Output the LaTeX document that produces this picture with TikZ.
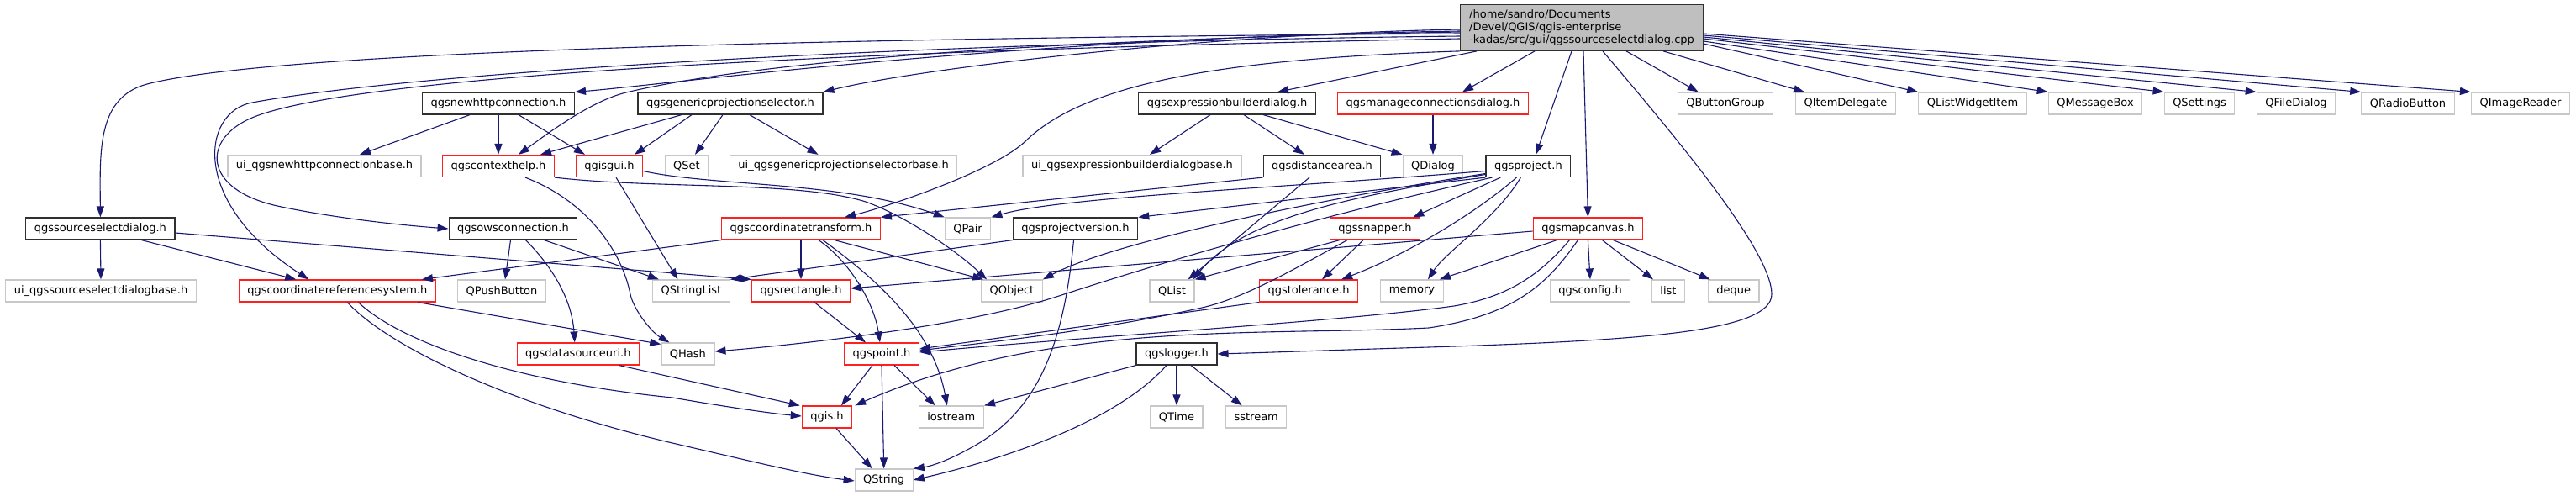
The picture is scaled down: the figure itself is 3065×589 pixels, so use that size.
\documentclass[tikz,border=0pt]{standalone}
\usepackage{fontspec}
\setmainfont{DejaVu Sans}
\usepackage{tikz}
\usetikzlibrary{arrows.meta}
\definecolor{edgeblue}{HTML}{191970}
\definecolor{boxgray}{HTML}{BFBFBF}
\definecolor{boxlight}{HTML}{C8C8C8}
\definecolor{boxred}{HTML}{FF2020}
\definecolor{boxdark}{HTML}{303030}

\begin{document}
\begin{tikzpicture}[x=1pt, y=-1pt, font=\fontsize{13}{15}\selectfont,
  hdr/.style={draw=boxdark, line width=1.2pt, inner xsep=10pt, inner ysep=3pt, minimum height=26pt},
  part/.style={hdr, draw=boxred},
  sys/.style={hdr, draw=boxlight},
  dep/.style={-{Triangle[length=13pt,width=9pt]}, color=edgeblue, line width=1.1pt}]
  \useasboundingbox (0,0) rectangle (3065,589);
  % source file
  \node[hdr, fill=boxgray, align=left, inner xsep=10.5pt, inner ysep=6pt] (cpp) at (1882,33)
    {/home/sandro/Documents\\/Devel/QGIS/qgis-enterprise\\-kadas/src/gui/qgssourceselectdialog.cpp};
  % rank 1
  \node[hdr] (nhc) at (593,123) {qgsnewhttpconnection.h};
  \node[hdr] (gps) at (869,123) {qgsgenericprojectionselector.h};
  \node[hdr] (ebd) at (1460,123) {qgsexpressionbuilderdialog.h};
  \node[part] (mcd) at (1705,123) {qgsmanageconnectionsdialog.h};
  \node[sys] (btngrp) at (2053,123) {QButtonGroup};
  \node[sys] (itemdel) at (2196,123) {QItemDelegate};
  \node[sys] (lwitem) at (2347,123) {QListWidgetItem};
  \node[sys] (msgbox) at (2493,123) {QMessageBox};
  \node[sys] (settings) at (2617,123) {QSettings};
  \node[sys] (filedlg) at (2732,123) {QFileDialog};
  \node[sys] (radio) at (2865,123) {QRadioButton};
  \node[sys] (imgreader) at (2999,123) {QImageReader};
  % rank 2
  \node[sys] (uinhc) at (386,197.5) {ui\_qgsnewhttpconnectionbase.h};
  \node[part] (ctxhelp) at (593,197.5) {qgscontexthelp.h};
  \node[part] (gisgui) at (725,197.5) {qgisgui.h};
  \node[sys] (qset) at (817,197.5) {QSet};
  \node[sys] (uigps) at (1003.6,197.5) {ui\_qgsgenericprojectionselectorbase.h};
  \node[sys] (uiebd) at (1347,197.5) {ui\_qgsexpressionbuilderdialogbase.h};
  \node[hdr] (distarea) at (1573,197.5) {qgsdistancearea.h};
  \node[sys] (qdialog) at (1705,197.5) {QDialog};
  \node[hdr] (project) at (1818.4,197.5) {qgsproject.h};
  % rank 3
  \node[hdr] (ssd) at (119.4,272) {qgssourceselectdialog.h};
  \node[hdr] (ows) at (610.5,272) {qgsowsconnection.h};
  \node[part] (ctrans) at (953,272) {qgscoordinatetransform.h};
  \node[sys] (qpair) at (1151.6,272) {QPair};
  \node[hdr] (projver) at (1279.5,272) {qgsprojectversion.h};
  \node[part] (snapper) at (1636,272) {qgssnapper.h};
  \node[part] (mapcanvas) at (1889.4,272) {qgsmapcanvas.h};
  % rank 4
  \node[sys] (uissd) at (120,346) {ui\_qgssourceselectdialogbase.h};
  \node[part] (crs) at (401.3,346) {qgscoordinatereferencesystem.h};
  \node[sys] (pushbtn) at (597,346) {QPushButton};
  \node[sys] (strlist) at (822.4,346) {QStringList};
  \node[part] (rect) at (953,346) {qgsrectangle.h};
  \node[sys] (qobject) at (1204,346) {QObject};
  \node[sys] (qlist) at (1394.5,346) {QList};
  \node[part] (tolerance) at (1557,346) {qgstolerance.h};
  \node[sys] (memory) at (1680,346) {memory};
  \node[sys] (config) at (1892,346) {qgsconfig.h};
  \node[sys] (stdlist) at (1985,346) {list};
  \node[sys] (deque) at (2062.7,346) {deque};
  % rank 5
  \node[part] (dsuri) at (687.8,421) {qgsdatasourceuri.h};
  \node[sys] (qhash) at (818.4,421) {QHash};
  \node[part] (point) at (1049,421) {qgspoint.h};
  \node[hdr] (logger) at (1400,421) {qgslogger.h};
  % rank 6
  \node[part] (qgis) at (984,496) {qgis.h};
  \node[sys] (iostream) at (1131.8,496) {iostream};
  \node[sys] (qtime) at (1400,496) {QTime};
  \node[sys] (sstream) at (1494.7,496) {sstream};
  % rank 7
  \node[sys] (qstring) at (1051.7,571) {QString};

  % includes of the source file
  \draw[dep] ([yshift=-7pt]cpp.west) .. controls (1000,45) and (330,60) .. (175,100)
    .. controls (115,116) and (119,180) .. (ssd.north);
  \draw[dep] ([yshift=-10pt]cpp.west) .. controls (1100,50) and (500,85) .. (300,122)
    .. controls (240,133) and (225,240) .. ([xshift=-34pt]crs.north);
  \draw[dep] ([yshift=-13pt]cpp.west) .. controls (1000,60) and (420,90) .. (300,140)
    .. controls (240,165) and (240,225) .. (330,245) .. controls (400,260) and (480,268) .. (ows.west);
  \draw[dep] ([yshift=-4pt]cpp.west) .. controls (1200,45) and (800,100) .. (nhc.north east);
  \draw[dep] ([yshift=-5pt]cpp.west) .. controls (1100,50) and (850,85) .. (745,110)
    .. controls (703,120) and (650,160) .. ([xshift=24pt]ctxhelp.north);
  \draw[dep] ([yshift=-2pt]cpp.west) .. controls (1450,40) and (1100,80) .. (gps.north east);
  \draw[dep] (cpp.south west) .. controls (1450,70) and (1290,100) .. (1220,168)
    .. controls (1185,202) and (1060,245) .. ([xshift=52pt]ctrans.north);
  \draw[dep] ([xshift=20pt]cpp.south west) -- ([xshift=60pt]ebd.north);
  \draw[dep] ([xshift=-56pt]cpp.south) -- ([xshift=35pt]mcd.north);
  \draw[dep] ([xshift=-12pt]cpp.south) -- ([xshift=9pt]project.north);
  \draw[dep] ([xshift=2pt]cpp.south) -- (mapcanvas.north);
  \draw[dep] ([xshift=25pt]cpp.south) .. controls (2000,170) and (2108,300) .. (2108,350)
    .. controls (2108,395) and (1950,405) .. (1700,413) .. controls (1600,416) and (1520,419) .. (logger.east);
  \draw[dep] ([xshift=53pt]cpp.south) -- ([xshift=25pt]btngrp.north west);
  \draw[dep] ([xshift=97pt]cpp.south) -- ([xshift=11pt]itemdel.north west);
  \draw[dep] ([yshift=-19pt]cpp.east) -- (lwitem.north west);
  \draw[dep] ([yshift=-16pt]cpp.east) -- (msgbox.north west);
  \draw[dep] ([yshift=-13pt]cpp.east) -- (settings.north west);
  \draw[dep] ([yshift=-11pt]cpp.east) -- (filedlg.north west);
  \draw[dep] ([yshift=-9pt]cpp.east) -- (radio.north west);
  \draw[dep] ([yshift=-7pt]cpp.east) -- (imgreader.north west);

  % headers
  \draw[dep] (ssd.south) -- (uissd.north);
  \draw[dep] ([xshift=49pt]ssd.south) -- ([xshift=-49pt]crs.north);
  \draw[dep] ([yshift=-5pt]ssd.east) -- (rect.north west);
  \draw[dep] ([xshift=-34pt]nhc.south) -- ([xshift=42pt]uinhc.north);
  \draw[dep] (nhc.south) -- (ctxhelp.north);
  \draw[dep] ([xshift=24pt]nhc.south) -- ([xshift=-29pt]gisgui.north);
  \draw[dep] ([xshift=-58pt]gps.south) -- ([xshift=50pt]ctxhelp.north);
  \draw[dep] ([xshift=-46pt]gps.south) -- ([xshift=30pt]gisgui.north);
  \draw[dep] ([xshift=-9pt]gps.south) -- ([xshift=10pt]qset.north);
  \draw[dep] ([xshift=23pt]gps.south) -- ([xshift=-30pt]uigps.north);
  \draw[dep] ([xshift=-20pt]ebd.south) -- ([xshift=21pt]uiebd.north);
  \draw[dep] ([xshift=20pt]ebd.south) -- ([xshift=-21pt]distarea.north);
  \draw[dep] ([xshift=43pt]ebd.south) -- (qdialog.north west);
  \draw[dep] (mcd.south) -- (qdialog.north);
  \draw[dep] ([xshift=32pt]ctxhelp.south) .. controls (700,240) and (740,300) .. (750,350)
    .. controls (753.6,368) and (775,395) .. ([xshift=-22pt]qhash.north);
  \draw[dep] (ctxhelp.south east) .. controls (780,225) and (950,215) .. (1030,240)
    .. controls (1080,258) and (1140,300) .. ([xshift=-30pt]qobject.north);
  \draw[dep] ([xshift=8pt]gisgui.south) -- ([xshift=-16pt]strlist.north);
  \draw[dep] ([yshift=-6pt]gisgui.east) .. controls (850,222) and (1000,215) .. (qpair.north west);
  \draw[dep] ([xshift=-3pt]ows.south) -- ([xshift=4pt]pushbtn.north);
  \draw[dep] ([xshift=15pt]ows.south) .. controls (650,310) and (680,350) .. ([xshift=-4pt]dsuri.north);
  \draw[dep] ([xshift=37pt]ows.south) -- ([xshift=8pt]strlist.north west);
  \draw[dep] (ctrans.south west) -- ([xshift=-17pt]crs.north east);
  \draw[dep] (ctrans.south) -- (rect.north);
  \draw[dep] ([xshift=21pt]ctrans.south) .. controls (1010,310) and (1040,360) .. ([xshift=-2pt]point.north);
  \draw[dep] ([xshift=26pt]ctrans.south) .. controls (1040,330) and (1110,390) .. ([xshift=-5pt]iostream.north);
  \draw[dep] ([xshift=40pt]ctrans.south) -- ([xshift=3pt]qobject.north west);
  \draw[dep] (distarea.south west) -- (ctrans.north east);
  \draw[dep] ([xshift=-15pt]distarea.south) -- ([xshift=-8pt]qlist.north east);
  \draw[dep] (project.south west) -- (projver.north east);
  \draw[dep] ([yshift=-6pt]project.west) .. controls (1500,225) and (1260,235) .. (qpair.north east);
  \draw[dep] ([yshift=-9pt]project.west) .. controls (1550,240) and (1320,290) .. (qobject.north east);
  \draw[dep] ([xshift=8pt]project.south west) .. controls (1600,250) and (1420,300) .. (1260,352)
    .. controls (1150,388) and (950,410) .. ([yshift=3pt]qhash.east);
  \draw[dep] ([yshift=-10pt]project.west) .. controls (1600,235) and (1480,260) .. ([xshift=-2pt]qlist.north east);
  \draw[dep] ([xshift=-33pt]project.south) -- ([xshift=-9pt]snapper.north east);
  \draw[dep] ([xshift=-14pt]project.south) .. controls (1760,250) and (1680,300) .. ([xshift=-20pt]tolerance.north east);
  \draw[dep] ([xshift=-9pt]project.south) .. controls (1780,260) and (1720,300) .. ([xshift=19pt]memory.north);
  \draw[dep] ([xshift=-14pt]snapper.south) -- ([xshift=16pt]tolerance.north);
  \draw[dep] ([xshift=-42pt]snapper.south) -- (qlist.north east);
  \draw[dep] ([xshift=-33pt]snapper.south) .. controls (1540,320) and (1480,355) .. (1430,366)
    .. controls (1300,395) and (1150,410) .. ([yshift=4pt]point.east);
  \draw[dep] ([yshift=-3pt]mapcanvas.west) -- ([yshift=3pt]rect.east);
  \draw[dep] ([xshift=-37pt]mapcanvas.south) -- ([xshift=-5pt]memory.north east);
  \draw[dep] ([xshift=-22pt]mapcanvas.south) .. controls (1830,330) and (1790,354) .. (1730,364)
    .. controls (1600,382) and (1300,400) .. ([yshift=2pt]point.east);
  \draw[dep] ([xshift=-12pt]mapcanvas.south) .. controls (1840,340) and (1800,375) .. (1700,390)
    .. controls (1500,400) and (1250,380) .. ([xshift=3pt]qgis.north east);
  \draw[dep] (mapcanvas.south) -- (config.north);
  \draw[dep] ([xshift=17pt]mapcanvas.south) -- ([xshift=-18pt]stdlist.north);
  \draw[dep] ([xshift=30pt]mapcanvas.south) -- ([xshift=3pt]deque.north west);
  \draw[dep] (projver.south west) -- (strlist.north east);
  \draw[dep] ([xshift=-2pt]projver.south) .. controls (1265,420) and (1230,490) .. (1160,530)
    .. controls (1125,550) and (1105,555) .. (qstring.north east);
  \draw[dep] ([xshift=12pt]crs.south) .. controls (460,410) and (600,480) .. (800,527)
    .. controls (900,550) and (960,565) .. ([yshift=-1pt]qstring.west);
  \draw[dep] ([xshift=25pt]crs.south) .. controls (480,410) and (620,455) .. (800,473)
    .. controls (870,485) and (920,492) .. ([yshift=1pt]qgis.west);
  \draw[dep] ([xshift=96pt]crs.south) -- ([yshift=-2pt]qhash.north west);
  \draw[dep] ([xshift=49pt]dsuri.south) -- ([xshift=-2pt]qgis.north west);
  \draw[dep] ([xshift=16pt]rect.south) -- ([xshift=-19pt]point.north);
  \draw[dep] (tolerance.south west) -- ([yshift=6pt]point.east);
  \draw[dep] ([xshift=-11pt]point.south) -- ([xshift=17pt]qgis.north);
  \draw[dep] (point.south) -- (qstring.north);
  \draw[dep] ([xshift=15pt]point.south) -- ([xshift=-19pt]iostream.north);
  \draw[dep] ([xshift=11pt]qgis.south) -- ([xshift=-14pt]qstring.north);
  \draw[dep] (logger.south west) -- (iostream.north east);
  \draw[dep] ([xshift=-12pt]logger.south) .. controls (1330,500) and (1200,545) .. (qstring.east);
  \draw[dep] (logger.south) -- (qtime.north);
  \draw[dep] ([xshift=17pt]logger.south) -- ([xshift=-17pt]sstream.north);
\end{tikzpicture}
\end{document}
